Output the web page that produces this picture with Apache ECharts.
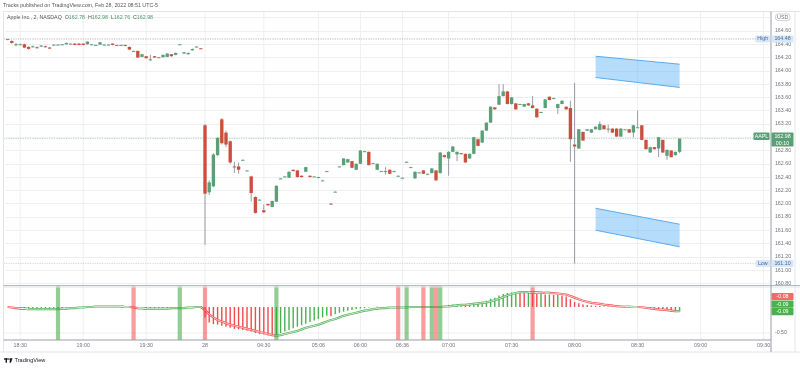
<!DOCTYPE html>
<html><head><meta charset="utf-8">
<script src="https://cdn.jsdelivr.net/npm/echarts@6/dist/echarts.min.js"></script>
<style>html,body{margin:0;padding:0;background:#fff}#c{width:800px;height:368px}</style>
</head><body><div id="c"></div>
<script>
// ---------- DATA ----------
const times = [
"18:24","18:26","18:28","18:30","18:32","18:34","18:36","18:38","18:40","18:42","18:44","18:46","18:48","18:50","18:52","18:54","18:56","18:58",
"19:00","19:02","19:04","19:06","19:08","19:10","19:12","19:14","19:16","19:18","19:20","19:22","19:24","19:26","19:28","19:30","19:32","19:34","19:36","19:38","19:40","19:42","19:44","19:46","19:48","19:50","19:52","19:54","19:56",
"04:00","04:02","04:04","04:06","04:08","04:10","04:12","04:14","04:16","04:18","04:20","04:24","04:26","04:28","04:30",
"04:32","04:34","04:36","04:38","04:40","04:42","04:44","04:48","04:50","04:52","04:54","04:58","05:06",
"05:08","05:12","05:16","05:22","05:28","05:34","05:40","05:46","05:52","06:00",
"06:04","06:06","06:10","06:14","06:18","06:22","06:26","06:30","06:32","06:36",
"06:38","06:40","06:42","06:44","06:46","06:48","06:50","06:52","06:54","06:58",
"07:00","07:02","07:04","07:06","07:08","07:10","07:12","07:14","07:16","07:18","07:20","07:22","07:24","07:26","07:28","07:30","07:32","07:34","07:36","07:38","07:40","07:42","07:44","07:46","07:48","07:50","07:52","07:54","07:56","07:58",
"08:00","08:02","08:04","08:06","08:08","08:10","08:12","08:14","08:16","08:18","08:20","08:22","08:24","08:26","08:28","08:30","08:32","08:34","08:36","08:38","08:40","08:42","08:44","08:46","08:48","08:50","08:52","08:54","08:56","08:58",
"09:00","09:02","09:04","09:06","09:08","09:10","09:12","09:14","09:16","09:18","09:20","09:22","09:24","09:26","09:28","09:30","09:32"
];
const tickLabels = {"18:30":"18:30","19:00":"19:00","19:30":"19:30","04:00":"28","04:30":"04:30","05:06":"05:06","06:00":"06:00","06:36":"06:36","07:00":"07:00","07:30":"07:30","08:00":"08:00","08:30":"08:30","09:00":"09:00","09:30":"09:30"};

// [open, close, low, high]
const ohlc = [
[164.47,164.48,164.46,164.48],[164.45,164.42,164.41,164.46],[164.39,164.40,164.37,164.42],[164.40,164.40,164.39,164.41],[164.40,164.35,164.34,164.41],
[164.36,164.33,164.32,164.37],[164.36,164.37,164.35,164.38],[164.355,164.35,164.34,164.37],[164.37,164.38,164.36,164.39],[164.37,164.36,164.35,164.38],
[164.35,164.335,164.33,164.36],[164.39,164.395,164.385,164.40],[164.395,164.395,164.39,164.40],[164.40,164.40,164.395,164.405],[164.40,164.42,164.395,164.425],
[164.41,164.41,164.405,164.415],[164.41,164.39,164.385,164.415],[164.41,164.39,164.385,164.415],[164.41,164.39,164.385,164.415],[164.40,164.44,164.395,164.445],
[164.39,164.40,164.385,164.405],[164.39,164.39,164.385,164.395],[164.395,164.43,164.39,164.435],[164.395,164.395,164.39,164.40],[164.395,164.395,164.39,164.40],
[164.41,164.39,164.385,164.415],[164.39,164.39,164.385,164.395],[164.39,164.39,164.385,164.395],[164.39,164.375,164.37,164.395],[164.36,164.32,164.315,164.365],
[164.30,164.30,164.295,164.305],[164.30,164.20,164.195,164.305],[164.21,164.25,164.205,164.255],[164.22,164.19,164.185,164.225],[164.17,164.175,164.15,164.24],
[164.22,164.20,164.195,164.225],[164.20,164.205,164.195,164.21],[164.205,164.24,164.20,164.245],[164.21,164.26,164.205,164.265],[164.25,164.22,164.215,164.255],
[164.24,164.27,164.235,164.275],[164.40,164.40,164.395,164.405],[164.26,164.28,164.255,164.285],[164.25,164.27,164.245,164.275],[164.31,164.33,164.305,164.335],
[164.36,164.365,164.355,164.37],[164.34,164.335,164.33,164.345],
[163.18,162.15,161.38,163.20],[162.17,162.32,162.13,162.35],[162.26,162.74,162.25,162.76],[162.73,162.99,162.72,163.00],[163.27,162.91,162.89,163.29],
[163.07,162.89,162.85,163.10],[162.94,162.62,162.60,162.95],[162.56,162.555,162.46,162.63],[162.56,162.51,162.45,162.62],[162.66,162.66,162.655,162.665],
[162.50,162.50,162.495,162.505],[162.41,162.16,162.03,162.42],[162.10,161.86,161.85,162.11],[162.06,162.06,162.055,162.065],[161.90,161.87,161.86,161.99],
[161.995,161.975,161.97,162.00],[161.95,162.04,161.945,162.045],[162.03,162.27,162.025,162.275],[162.38,162.38,162.375,162.385],[162.41,162.41,162.405,162.415],
[162.39,162.48,162.385,162.485],[162.51,162.49,162.485,162.515],[162.50,162.40,162.395,162.505],[162.42,162.40,162.395,162.425],[162.48,162.55,162.475,162.555],
[162.42,162.40,162.395,162.425],[162.41,162.41,162.405,162.415],[162.40,162.40,162.395,162.405],[162.35,162.35,162.345,162.355],[162.49,162.49,162.485,162.495],
[162.00,161.99,161.985,162.005],[162.18,162.18,162.175,162.185],[162.56,162.56,162.555,162.565],[162.58,162.68,162.575,162.685],[162.62,162.67,162.615,162.675],
[162.64,162.54,162.535,162.645],[162.51,162.60,162.505,162.605],[162.60,162.80,162.595,162.805],[162.79,162.79,162.785,162.795],[162.78,162.58,162.575,162.785],
[162.61,162.61,162.605,162.615],[162.51,162.60,162.505,162.605],[162.49,162.49,162.485,162.495],[162.49,162.49,162.44,162.55],[162.51,162.45,162.445,162.515],
[162.49,162.49,162.485,162.495],[162.42,162.42,162.415,162.425],[162.39,162.39,162.385,162.395],[162.63,162.63,162.625,162.635],[162.55,162.55,162.545,162.555],
[162.38,162.48,162.375,162.485],[162.47,162.47,162.465,162.475],[162.50,162.45,162.445,162.505],[162.45,162.45,162.445,162.455],[162.46,162.53,162.455,162.535],
[162.50,162.35,162.345,162.505],[162.46,162.77,162.455,162.775],[162.73,162.70,162.695,162.735],
[162.68,162.78,162.42,162.79],[162.78,162.86,162.775,162.865],[162.74,162.78,162.64,162.785],[162.76,162.745,162.74,162.765],[162.75,162.62,162.615,162.755],
[162.68,162.75,162.675,162.755],[162.75,163.00,162.745,163.005],[162.97,162.87,162.865,162.975],[162.92,163.10,162.915,163.105],[163.10,163.22,163.095,163.225],
[163.22,163.46,163.215,163.465],[163.45,163.42,163.415,163.455],[163.49,163.62,163.485,163.80],[163.62,163.69,163.615,163.80],[163.69,163.50,163.495,163.695],
[163.50,163.60,163.495,163.605],[163.51,163.42,163.415,163.515],[163.50,163.50,163.495,163.505],[163.46,163.50,163.455,163.505],[163.51,163.48,163.475,163.515],
[163.48,163.44,163.435,163.62],[163.43,163.30,163.295,163.435],[163.38,163.38,163.375,163.385],[163.44,163.57,163.435,163.575],[163.61,163.56,163.555,163.615],
[163.59,163.59,163.585,163.595],[163.44,163.50,163.35,163.505],[163.50,163.55,163.495,163.555],[163.46,163.42,163.415,163.465],[163.44,162.97,162.63,163.55],
[162.89,162.86,161.10,163.82],[162.83,163.12,162.825,163.125],[163.08,162.95,162.945,163.085],[163.10,163.12,163.095,163.125],[163.07,163.12,163.065,163.125],
[163.12,163.16,163.115,163.165],[163.11,163.20,163.105,163.24],[163.18,163.12,163.115,163.185],[163.13,163.13,163.07,163.19],[163.13,163.07,163.065,163.135],
[163.13,163.01,163.005,163.135],[163.01,163.13,163.005,163.135],[163.12,163.12,163.115,163.125],[163.12,163.07,163.065,163.125],[163.07,163.18,163.00,163.185],
[163.15,163.15,163.145,163.40],[163.18,162.96,162.955,163.185],[162.96,162.82,162.815,162.965],[162.77,162.85,162.765,162.855],[162.85,162.82,162.815,162.855],
[162.83,163.00,162.70,163.005],[162.96,162.77,162.765,162.965],[162.72,162.81,162.66,162.815],[162.80,162.70,162.695,162.805],[162.73,162.78,162.725,162.785],
[162.78,162.98,162.76,162.98]
];

const hist = [
0.00,-0.02,-0.03,-0.03,-0.04,-0.05,-0.04,-0.04,-0.03,-0.04,
-0.05,-0.04,-0.03,-0.02,-0.01,-0.01,-0.01,0.00,0.01,0.01,
0.01,0.01,0.01,0.01,0.01,0.01,0.00,0.00,-0.01,-0.02,
-0.02,-0.04,-0.03,-0.04,-0.04,-0.04,-0.03,-0.03,-0.02,-0.02,
-0.02,-0.01,-0.01,-0.01,0.00,0.01,0.01,
-0.20,-0.30,-0.33,-0.34,-0.36,-0.38,-0.40,-0.42,-0.43,-0.44,
-0.45,-0.47,-0.50,-0.52,-0.53,-0.55,-0.56,-0.53,-0.50,-0.47,
-0.44,-0.41,-0.38,-0.35,-0.32,-0.29,-0.26,-0.23,-0.20,-0.17,
-0.18,-0.14,-0.11,-0.09,-0.07,-0.06,-0.04,-0.03,-0.02,-0.01,
0.00,0.01,0.00,-0.01,-0.01,0.00,-0.01,-0.01,0.01,0.01,
0.00,0.00,-0.01,-0.01,0.00,-0.01,0.02,0.02,
0.04,0.05,0.05,0.06,0.05,0.06,0.08,0.08,0.10,0.12,
0.16,0.18,0.22,0.25,0.27,0.28,0.29,0.28,0.27,0.27,
0.26,0.25,0.25,0.24,0.24,0.23,0.23,0.22,0.20,0.15,
0.10,0.07,0.05,0.04,0.03,0.02,0.02,0.01,0.01,0.00,
0.00,0.00,0.00,0.00,-0.01,0.00,-0.01,-0.03,-0.04,-0.05,
-0.06,-0.06,-0.07,-0.09,-0.10,-0.09
];
const signal = [
0.00,-0.01,-0.02,-0.03,-0.03,-0.04,-0.04,-0.04,-0.04,-0.04,
-0.04,-0.04,-0.04,-0.03,-0.03,-0.02,-0.02,-0.01,-0.01,0.00,
0.00,0.01,0.01,0.01,0.01,0.01,0.01,0.01,0.00,0.00,
-0.01,-0.02,-0.02,-0.03,-0.03,-0.03,-0.03,-0.03,-0.03,-0.02,
-0.02,-0.02,-0.02,-0.01,-0.01,0.00,0.00,
-0.06,-0.14,-0.20,-0.25,-0.28,-0.31,-0.34,-0.36,-0.38,-0.40,
-0.42,-0.44,-0.46,-0.48,-0.50,-0.52,-0.54,-0.55,-0.54,-0.52,
-0.50,-0.48,-0.46,-0.43,-0.40,-0.38,-0.36,-0.34,-0.31,-0.28,
-0.25,-0.23,-0.20,-0.17,-0.15,-0.13,-0.11,-0.09,-0.07,-0.06,
-0.04,-0.03,-0.02,-0.02,-0.01,-0.01,-0.01,-0.01,-0.01,0.00,
0.00,0.00,0.00,0.00,0.00,0.00,0.00,0.01,
0.01,0.02,0.03,0.04,0.04,0.05,0.06,0.07,0.08,0.09,
0.11,0.13,0.16,0.19,0.22,0.25,0.27,0.285,0.285,0.285,
0.28,0.28,0.275,0.27,0.27,0.265,0.26,0.25,0.24,0.21,
0.18,0.15,0.12,0.10,0.08,0.07,0.06,0.045,0.035,0.025,
0.015,0.01,0.005,0.005,0.00,0.00,-0.005,-0.015,-0.025,-0.035,
-0.045,-0.05,-0.06,-0.07,-0.08,-0.08
];
const buySignals = ["18:48","19:46","04:36","06:38","06:50","06:54"];
const sellSignals = ["19:24","04:00","06:32","06:46","06:52","07:40"];
// channel shapes: [start, end, startTop, startBottom, endTop, endBottom]
const channelUpper = ["08:10","08:50",164.22,163.90,164.10,163.75];
const channelLower = ["08:10","08:50",161.93,161.60,161.69,161.35];
const oscTags = [-0.08,-0.09,-0.09];
const countdown = "00:10";

// ---------- STYLE ----------
const GREEN='#5b9f77', RED='#cc4f3e', WICK='#8f9199';
const HGREEN='#4caf50', HRED='#f24a4a';
const FONT='"Liberation Sans", Arial, sans-serif';
const FS=5.3, AXC='#6f727c';

const chart = echarts.init(document.getElementById('c'), null, {renderer:'canvas', width:800, height:368});
const idx = t => times.indexOf(t);
const tickIdx = Object.keys(tickLabels).map(idx);
const last = ohlc[ohlc.length-1];
const highVal = Math.max(...ohlc.map(d=>d[3]));
const lowVal = Math.min(...ohlc.map(d=>d[2]));

const candleData = ohlc.map((d,i)=>[i,d[0],d[1],d[2],d[3]]);
const histData = hist.map((v,i)=>({value:v, itemStyle:{color:(i>0 && v<hist[i-1])?HRED:HGREEN}}));
const sigRed = signal.map(()=>'-'), sigGreen = signal.map(()=>'-');
for (let i=1;i<signal.length;i++){const a = signal[i]>=signal[i-1]?sigGreen:sigRed; a[i-1]=signal[i-1]; a[i]=signal[i];}
const sigBars = buySignals.map(t=>[idx(t),1]).concat(sellSignals.map(t=>[idx(t),-1]));
const chanData = [channelUpper,channelLower].map(c=>[idx(c[0]),idx(c[1]),c[2],c[3],c[4],c[5]]);

function vgrid(ext1, ext2){
  return (params, api)=>{
    const x = api.coord([api.value(0), api.value(1)])[0];
    const cs = params.coordSys;
    return {type:'line', shape:{x1:x,y1:cs.y-ext1,x2:x,y2:cs.y+cs.height+ext2}, style:{stroke:'#eeeff2', lineWidth:1}};
  };
}

const option = {
  animation:false,
  backgroundColor:'#ffffff',
  textStyle:{fontFamily:FONT},
  grid:[{left:5.5,right:30.1,top:17.72,height:265.6},{left:5.5,right:30.1,top:286.2,height:52}],
  xAxis:[
    {type:'category',gridIndex:0,data:times,boundaryGap:true,axisLine:{show:false},axisTick:{show:false},axisLabel:{show:false},splitLine:{show:false}},
    {type:'category',gridIndex:1,data:times,boundaryGap:true,axisLine:{show:false},axisTick:{show:false},splitLine:{show:false},
     axisLabel:{interval:(i,v)=>tickLabels[v]!==undefined,formatter:v=>tickLabels[v]||'',fontSize:FS,color:AXC,margin:5,fontFamily:FONT}}
  ],
  yAxis:[
    {type:'value',gridIndex:0,position:'right',min:160.8,max:164.8,interval:0.2,axisLine:{show:false},axisTick:{show:false},
     axisLabel:{formatter:v=>v>164.79?'':v.toFixed(2),fontSize:FS,color:AXC,margin:5,align:'left',fontFamily:FONT},
     splitLine:{lineStyle:{color:'#eeeff2',width:1}}},
    {type:'value',gridIndex:1,position:'right',min:-0.6,max:0.4,interval:0.1,axisLine:{show:false},axisTick:{show:false},
     axisLabel:{formatter:v=>Math.abs(v+0.5)<1e-6?'-0.50':'',fontSize:FS,color:AXC,margin:5,align:'left',fontFamily:FONT},
     splitLine:{show:false}}
  ],
  series:[
    {type:'custom',name:'vgrid0',xAxisIndex:0,yAxisIndex:0,data:tickIdx.map(i=>[i,162]),renderItem:vgrid(6,3),silent:true,z:0},
    {type:'custom',name:'vgrid1',xAxisIndex:1,yAxisIndex:1,data:tickIdx.map(i=>[i,0]),renderItem:vgrid(0,1.8),silent:true,z:0},
    {type:'custom',name:'levels',xAxisIndex:0,yAxisIndex:0,silent:true,z:1,
     data:[[0,highVal,0],[0,last[1],1],[0,lowVal,2]],
     renderItem:(params,api)=>{
       const y=api.coord([0,api.value(1)])[1]; const cs=params.coordSys; const k=api.value(2);
       const col = k===1?'rgba(91,159,119,0.55)':(k===0?'#9fa2aa':'#c5c7cd');
       return {type:'line',shape:{x1:cs.x-2,y1:y,x2:cs.x+cs.width,y2:y},style:{stroke:col,lineWidth:0.8,lineDash:[1.2,1.2]}};
     }},
    {type:'custom',name:'channels',xAxisIndex:0,yAxisIndex:0,silent:true,z:2,data:chanData,
     encode:{x:[0,1],y:[2,3,4,5]},
     renderItem:(params,api)=>{
       const a=api.coord([api.value(0),api.value(2)]), b=api.coord([api.value(1),api.value(4)]);
       const c=api.coord([api.value(1),api.value(5)]), d=api.coord([api.value(0),api.value(3)]);
       return {type:'group',children:[
         {type:'polygon',shape:{points:[a,b,c,d]},style:{fill:'rgba(100,181,246,0.48)'}},
         {type:'line',shape:{x1:a[0],y1:a[1],x2:b[0],y2:b[1]},style:{stroke:'#5aacf0',lineWidth:1}},
         {type:'line',shape:{x1:d[0],y1:d[1],x2:c[0],y2:c[1]},style:{stroke:'#5aacf0',lineWidth:1}}
       ]};
     }},
    {type:'custom',name:'AAPL',xAxisIndex:0,yAxisIndex:0,z:3,data:candleData,encode:{x:0,y:[1,2,3,4]},
     renderItem:(params,api)=>{
       const i=api.value(0),o=api.value(1),c=api.value(2),l=api.value(3),h=api.value(4);
       const pO=api.coord([i,o]),pC=api.coord([i,c]),pL=api.coord([i,l]),pH=api.coord([i,h]);
       const w=api.size([1,0])[0]*0.8; const x=pO[0];
       const top=Math.min(pO[1],pC[1]); const hh=Math.max(Math.abs(pO[1]-pC[1]),1);
       return {type:'group',children:[
         {type:'line',shape:{x1:x,y1:pH[1],x2:x,y2:pL[1]},style:{stroke:WICK,lineWidth:0.9}},
         {type:'rect',shape:{x:x-w/2,y:top,width:w,height:hh},style:{fill:c>=o?GREEN:RED}}
       ]};
     }},
    {type:'bar',name:'hist',xAxisIndex:1,yAxisIndex:1,data:histData,barWidth:1.4,z:3,silent:true},
    {type:'line',name:'sigRedO',xAxisIndex:1,yAxisIndex:1,data:sigRed,symbol:'none',lineStyle:{color:HRED,width:2.2},z:4,silent:true},
    {type:'line',name:'sigGreenO',xAxisIndex:1,yAxisIndex:1,data:sigGreen,symbol:'none',lineStyle:{color:HGREEN,width:2.2},z:4,silent:true},
    {type:'line',name:'sigRedI',xAxisIndex:1,yAxisIndex:1,data:sigRed,symbol:'none',lineStyle:{color:'#ffffff',width:0.7},z:5,silent:true},
    {type:'line',name:'sigGreenI',xAxisIndex:1,yAxisIndex:1,data:sigGreen,symbol:'none',lineStyle:{color:'#ffffff',width:0.7},z:5,silent:true},
    {type:'custom',name:'signals',xAxisIndex:1,yAxisIndex:1,data:sigBars,z:6,silent:true,
     renderItem:(params,api)=>{
       const x=api.coord([api.value(0),0])[0]; const cs=params.coordSys; const w=api.size([1,0])[0];
       return {type:'rect',shape:{x:x-w/2,y:cs.y,width:w,height:cs.height+1.8},style:{fill:api.value(1)>0?'rgba(50,160,50,0.52)':'rgba(240,60,60,0.5)'}};
     }},
    {type:'custom',name:'grid-050',xAxisIndex:1,yAxisIndex:1,data:[[0,-0.5]],silent:true,z:0,
     renderItem:(params,api)=>{const y=api.coord([0,api.value(1)])[1];const cs=params.coordSys;
       return {type:'line',shape:{x1:cs.x-2,y1:y,x2:cs.x+cs.width,y2:y},style:{stroke:'#eeeff2',lineWidth:1}};}}
  ]
};
chart.setOption(option);

// ---------- annotations ----------
const yp = v=>chart.convertToPixel({yAxisIndex:0},v);
const yq = v=>chart.convertToPixel({yAxisIndex:1},v);
const g = [];
function txt(x,y,text,fill,align,size,weight){g.push({type:'text',x,y,z:101,style:{text,fill,fontSize:size||FS,fontFamily:FONT,fontWeight:weight||'normal',align:align||'center',verticalAlign:'middle'}});}
function box(x,y,w,h,fill,text,color){g.push({type:'rect',z:100,shape:{x,y,width:w,height:h,r:0.8},style:{fill}}); if(text) txt(x+w/2,y+h/2,text,color);}
function ln(x1,y1,x2,y2,stroke,w){g.push({type:'line',z:90,shape:{x1,y1,x2,y2},style:{stroke,lineWidth:w||1}});}

// frame
ln(3,11.5,800,11.5,'#e3e5ea');
ln(3.5,11.5,3.5,352,'#e3e5ea');
ln(0,352,800,352,'#e3e5ea');
ln(795,11.5,795,352,'#e3e5ea');
ln(3.5,285.5,800,285.5,'#b6b8bf',1);
ln(3.5,287,800,287,'#e0e2e7',1);
ln(3.5,340,771,340,'#9a9da5',1);
ln(771,11.5,771,352,'#9a9da5',1);

// header
txt(3,6,'Tracks published on TradingView.com, Feb 28, 2022 08:51 UTC-5','#555555','left');
g.push({type:'text',x:7,y:18,z:101,style:{
  text:'{n|Apple Inc., 2, NASDAQ}  {k|O}{v|'+last[0].toFixed(2)+'}  {k|H}{v|'+last[3].toFixed(2)+'}  {k|L}{v|'+last[2].toFixed(2)+'}  {k|C}{v|'+last[1].toFixed(2)+'}',
  fontSize:FS,fontFamily:FONT,align:'left',verticalAlign:'middle',
  rich:{n:{fill:'#555555',fontSize:FS,fontFamily:FONT},k:{fill:'#555555',fontSize:FS,fontFamily:FONT},v:{fill:'#4a9a6a',fontSize:FS,fontFamily:FONT}}}});

// USD badge
g.push({type:'rect',z:100,shape:{x:775.5,y:14,width:14.5,height:6.5,r:2.5},style:{fill:'#fff',stroke:'#b0b3ba',lineWidth:0.6}});
txt(782.7,17.3,'USD','#6f727c');

// High / Low / Last tags
const yH=yp(highVal), yL=yp(lowVal), yC=yp(last[1]);
box(755.5,yH-3.5,14.5,7,'#d8e7f8','High','#45679a');
box(771.5,yH-3.5,22,7,'#d8e7f8',highVal.toFixed(2),'#45679a');
box(755.5,yL-3.5,14.5,7,'#d8e7f8','Low','#45679a');
box(771.5,yL-3.5,22,7,'#d8e7f8',lowVal.toFixed(2),'#45679a');
box(753.5,yC-6,16,7.5,GREEN,'AAPL','#ffffff');
box(771.5,yC-6,22,14,GREEN,null,null);
txt(782.5,yC-2.2,last[1].toFixed(2),'#ffffff');
txt(782.5,yC+4.5,countdown,'#ffffff');

// oscillator tags
const base=yq(oscTags[2]);
box(771.5,base-3.6-15.2,22,7.2,'#f26a6a',oscTags[0].toFixed(2),'#ffffff');
box(771.5,base-3.6-7.6,22,7.2,'#4caf50',oscTags[1].toFixed(2),'#ffffff');
box(771.5,base-3.6,22,7.2,'#4caf50',oscTags[2].toFixed(2),'#ffffff');

// TradingView logo
g.push({type:'rect',z:100,shape:{x:4,y:358.3,width:3.8,height:1.4},style:{fill:'#131722'}});
g.push({type:'rect',z:100,shape:{x:5.6,y:358.3,width:1.4,height:4.4},style:{fill:'#131722'}});
g.push({type:'circle',z:100,shape:{cx:8.9,cy:359.1,r:0.8},style:{fill:'#131722'}});
g.push({type:'polygon',z:100,shape:{points:[[10,358.3],[12.6,358.3],[10.9,362.7],[9.6,362.7]]},style:{fill:'#131722'}});
txt(14.5,360.6,'TradingView','#131722','left',5.6);

chart.setOption({graphic:g});
</script>
</body></html>
